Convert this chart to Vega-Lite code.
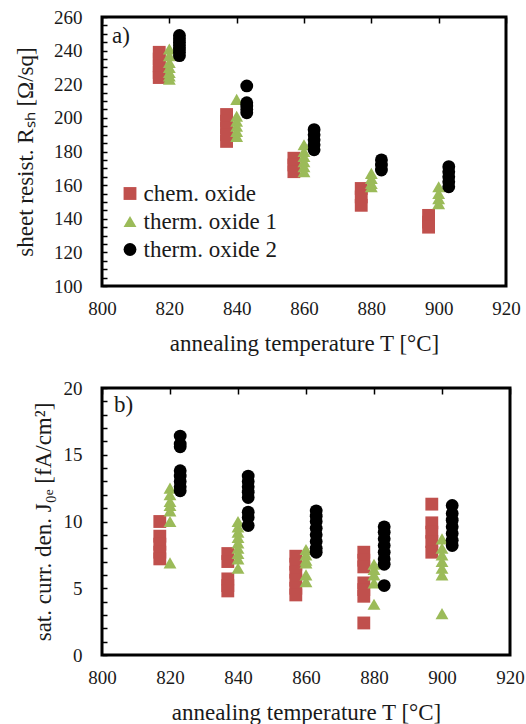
{
  "$schema": "https://vega.github.io/schema/vega-lite/v6.json",
  "background": "white",
  "padding": {"left": 13, "top": 6, "right": 10, "bottom": 5},
  "spacing": 102,
  "bounds": "flush",
  "config": {
    "font": "Liberation Serif",
    "view": {"stroke": "black", "strokeWidth": 3},
    "axis": {
      "grid": true, "gridColor": "black", "gridWidth": 1.5, "gridOpacity": 1, "gridDash": [6, 2000],
      "domain": false, "ticks": false,
      "labelFont": "Liberation Serif", "titleFont": "Liberation Serif",
      "labelFontSize": 19, "titleFontSize": 23, "titleFontWeight": "normal",
      "labelColor": "#1a1a1a", "titleColor": "#1a1a1a", "labelOverlap": false
    },
    "title": {"font": "Liberation Serif", "fontSize": 23, "fontWeight": "normal", "color": "#1a1a1a", "anchor": "start", "frame": "group", "offset": -40, "dx": 10},
    "legend": {
      "orient": "none", "legendX": 16.5, "legendY": 165, "padding": 0,
      "labelFont": "Liberation Serif", "labelFontSize": 23, "labelColor": "#1a1a1a",
      "rowPadding": 4, "labelOffset": 2, "symbolStrokeWidth": 0, "symbolSize": 165, "title": null
    }
  },
  "datasets": {
    "sheet": [
      {"T": 817, "series": "chem. oxide", "v": 239}, {"T": 817, "series": "chem. oxide", "v": 235}, {"T": 817, "series": "chem. oxide", "v": 231}, {"T": 817, "series": "chem. oxide", "v": 227}, {"T": 817, "series": "chem. oxide", "v": 224},
      {"T": 837, "series": "chem. oxide", "v": 202}, {"T": 837, "series": "chem. oxide", "v": 198}, {"T": 837, "series": "chem. oxide", "v": 194}, {"T": 837, "series": "chem. oxide", "v": 190}, {"T": 837, "series": "chem. oxide", "v": 186},
      {"T": 857, "series": "chem. oxide", "v": 176}, {"T": 857, "series": "chem. oxide", "v": 172}, {"T": 857, "series": "chem. oxide", "v": 168},
      {"T": 877, "series": "chem. oxide", "v": 158}, {"T": 877, "series": "chem. oxide", "v": 153}, {"T": 877, "series": "chem. oxide", "v": 148},
      {"T": 897, "series": "chem. oxide", "v": 142}, {"T": 897, "series": "chem. oxide", "v": 138}, {"T": 897, "series": "chem. oxide", "v": 135},
      {"T": 820, "series": "therm. oxide 1", "v": 241}, {"T": 820, "series": "therm. oxide 1", "v": 237}, {"T": 820, "series": "therm. oxide 1", "v": 233}, {"T": 820, "series": "therm. oxide 1", "v": 230}, {"T": 820, "series": "therm. oxide 1", "v": 227}, {"T": 820, "series": "therm. oxide 1", "v": 225}, {"T": 820, "series": "therm. oxide 1", "v": 223},
      {"T": 840, "series": "therm. oxide 1", "v": 211}, {"T": 840, "series": "therm. oxide 1", "v": 201}, {"T": 840, "series": "therm. oxide 1", "v": 198}, {"T": 840, "series": "therm. oxide 1", "v": 195}, {"T": 840, "series": "therm. oxide 1", "v": 192}, {"T": 840, "series": "therm. oxide 1", "v": 189},
      {"T": 860, "series": "therm. oxide 1", "v": 184}, {"T": 860, "series": "therm. oxide 1", "v": 180}, {"T": 860, "series": "therm. oxide 1", "v": 177}, {"T": 860, "series": "therm. oxide 1", "v": 174}, {"T": 860, "series": "therm. oxide 1", "v": 171}, {"T": 860, "series": "therm. oxide 1", "v": 168},
      {"T": 880, "series": "therm. oxide 1", "v": 167}, {"T": 880, "series": "therm. oxide 1", "v": 164}, {"T": 880, "series": "therm. oxide 1", "v": 161}, {"T": 880, "series": "therm. oxide 1", "v": 159},
      {"T": 900, "series": "therm. oxide 1", "v": 159}, {"T": 900, "series": "therm. oxide 1", "v": 155}, {"T": 900, "series": "therm. oxide 1", "v": 152}, {"T": 900, "series": "therm. oxide 1", "v": 149},
      {"T": 823, "series": "therm. oxide 2", "v": 249}, {"T": 823, "series": "therm. oxide 2", "v": 247}, {"T": 823, "series": "therm. oxide 2", "v": 245}, {"T": 823, "series": "therm. oxide 2", "v": 243}, {"T": 823, "series": "therm. oxide 2", "v": 241}, {"T": 823, "series": "therm. oxide 2", "v": 239}, {"T": 823, "series": "therm. oxide 2", "v": 237},
      {"T": 843, "series": "therm. oxide 2", "v": 219}, {"T": 843, "series": "therm. oxide 2", "v": 209}, {"T": 843, "series": "therm. oxide 2", "v": 207}, {"T": 843, "series": "therm. oxide 2", "v": 205}, {"T": 843, "series": "therm. oxide 2", "v": 203},
      {"T": 863, "series": "therm. oxide 2", "v": 193}, {"T": 863, "series": "therm. oxide 2", "v": 190}, {"T": 863, "series": "therm. oxide 2", "v": 187}, {"T": 863, "series": "therm. oxide 2", "v": 184}, {"T": 863, "series": "therm. oxide 2", "v": 181},
      {"T": 883, "series": "therm. oxide 2", "v": 175}, {"T": 883, "series": "therm. oxide 2", "v": 172}, {"T": 883, "series": "therm. oxide 2", "v": 169},
      {"T": 903, "series": "therm. oxide 2", "v": 171}, {"T": 903, "series": "therm. oxide 2", "v": 168}, {"T": 903, "series": "therm. oxide 2", "v": 165}, {"T": 903, "series": "therm. oxide 2", "v": 162}, {"T": 903, "series": "therm. oxide 2", "v": 159}
    ],
    "j0e": [
      {"T": 817, "series": "chem. oxide", "v": 10.0}, {"T": 817, "series": "chem. oxide", "v": 8.9}, {"T": 817, "series": "chem. oxide", "v": 8.3}, {"T": 817, "series": "chem. oxide", "v": 7.7}, {"T": 817, "series": "chem. oxide", "v": 7.2},
      {"T": 837, "series": "chem. oxide", "v": 7.6}, {"T": 837, "series": "chem. oxide", "v": 7.0}, {"T": 837, "series": "chem. oxide", "v": 5.7}, {"T": 837, "series": "chem. oxide", "v": 5.2}, {"T": 837, "series": "chem. oxide", "v": 4.8},
      {"T": 857, "series": "chem. oxide", "v": 7.4}, {"T": 857, "series": "chem. oxide", "v": 6.8}, {"T": 857, "series": "chem. oxide", "v": 6.2}, {"T": 857, "series": "chem. oxide", "v": 5.6}, {"T": 857, "series": "chem. oxide", "v": 5.0}, {"T": 857, "series": "chem. oxide", "v": 4.5},
      {"T": 877, "series": "chem. oxide", "v": 7.7}, {"T": 877, "series": "chem. oxide", "v": 7.1}, {"T": 877, "series": "chem. oxide", "v": 6.6}, {"T": 877, "series": "chem. oxide", "v": 5.4}, {"T": 877, "series": "chem. oxide", "v": 4.9}, {"T": 877, "series": "chem. oxide", "v": 4.4}, {"T": 877, "series": "chem. oxide", "v": 2.4},
      {"T": 897, "series": "chem. oxide", "v": 11.3}, {"T": 897, "series": "chem. oxide", "v": 9.9}, {"T": 897, "series": "chem. oxide", "v": 9.2}, {"T": 897, "series": "chem. oxide", "v": 8.5}, {"T": 897, "series": "chem. oxide", "v": 7.7},
      {"T": 820, "series": "therm. oxide 1", "v": 12.5}, {"T": 820, "series": "therm. oxide 1", "v": 12.0}, {"T": 820, "series": "therm. oxide 1", "v": 11.5}, {"T": 820, "series": "therm. oxide 1", "v": 11.2}, {"T": 820, "series": "therm. oxide 1", "v": 10.8}, {"T": 820, "series": "therm. oxide 1", "v": 10.0}, {"T": 820, "series": "therm. oxide 1", "v": 6.9},
      {"T": 840, "series": "therm. oxide 1", "v": 10.0}, {"T": 840, "series": "therm. oxide 1", "v": 9.6}, {"T": 840, "series": "therm. oxide 1", "v": 9.2}, {"T": 840, "series": "therm. oxide 1", "v": 8.8}, {"T": 840, "series": "therm. oxide 1", "v": 8.4}, {"T": 840, "series": "therm. oxide 1", "v": 8.0}, {"T": 840, "series": "therm. oxide 1", "v": 7.6}, {"T": 840, "series": "therm. oxide 1", "v": 7.2}, {"T": 840, "series": "therm. oxide 1", "v": 6.5},
      {"T": 860, "series": "therm. oxide 1", "v": 7.9}, {"T": 860, "series": "therm. oxide 1", "v": 7.5}, {"T": 860, "series": "therm. oxide 1", "v": 7.1}, {"T": 860, "series": "therm. oxide 1", "v": 6.9}, {"T": 860, "series": "therm. oxide 1", "v": 6.0}, {"T": 860, "series": "therm. oxide 1", "v": 5.5},
      {"T": 880, "series": "therm. oxide 1", "v": 6.8}, {"T": 880, "series": "therm. oxide 1", "v": 6.4}, {"T": 880, "series": "therm. oxide 1", "v": 6.0}, {"T": 880, "series": "therm. oxide 1", "v": 5.4}, {"T": 880, "series": "therm. oxide 1", "v": 3.8},
      {"T": 900, "series": "therm. oxide 1", "v": 8.7}, {"T": 900, "series": "therm. oxide 1", "v": 8.0}, {"T": 900, "series": "therm. oxide 1", "v": 7.5}, {"T": 900, "series": "therm. oxide 1", "v": 7.0}, {"T": 900, "series": "therm. oxide 1", "v": 6.5}, {"T": 900, "series": "therm. oxide 1", "v": 6.0}, {"T": 900, "series": "therm. oxide 1", "v": 3.1},
      {"T": 823, "series": "therm. oxide 2", "v": 16.4}, {"T": 823, "series": "therm. oxide 2", "v": 15.8}, {"T": 823, "series": "therm. oxide 2", "v": 15.6}, {"T": 823, "series": "therm. oxide 2", "v": 13.8}, {"T": 823, "series": "therm. oxide 2", "v": 13.4}, {"T": 823, "series": "therm. oxide 2", "v": 13.0}, {"T": 823, "series": "therm. oxide 2", "v": 12.6}, {"T": 823, "series": "therm. oxide 2", "v": 12.3},
      {"T": 843, "series": "therm. oxide 2", "v": 13.4}, {"T": 843, "series": "therm. oxide 2", "v": 13.0}, {"T": 843, "series": "therm. oxide 2", "v": 12.6}, {"T": 843, "series": "therm. oxide 2", "v": 12.2}, {"T": 843, "series": "therm. oxide 2", "v": 11.8}, {"T": 843, "series": "therm. oxide 2", "v": 10.7}, {"T": 843, "series": "therm. oxide 2", "v": 10.3}, {"T": 843, "series": "therm. oxide 2", "v": 9.7},
      {"T": 863, "series": "therm. oxide 2", "v": 10.8}, {"T": 863, "series": "therm. oxide 2", "v": 10.4}, {"T": 863, "series": "therm. oxide 2", "v": 10.0}, {"T": 863, "series": "therm. oxide 2", "v": 9.5}, {"T": 863, "series": "therm. oxide 2", "v": 9.0}, {"T": 863, "series": "therm. oxide 2", "v": 8.5}, {"T": 863, "series": "therm. oxide 2", "v": 8.0}, {"T": 863, "series": "therm. oxide 2", "v": 7.7},
      {"T": 883, "series": "therm. oxide 2", "v": 9.6}, {"T": 883, "series": "therm. oxide 2", "v": 9.2}, {"T": 883, "series": "therm. oxide 2", "v": 8.7}, {"T": 883, "series": "therm. oxide 2", "v": 8.2}, {"T": 883, "series": "therm. oxide 2", "v": 7.7}, {"T": 883, "series": "therm. oxide 2", "v": 7.2}, {"T": 883, "series": "therm. oxide 2", "v": 6.8}, {"T": 883, "series": "therm. oxide 2", "v": 5.2},
      {"T": 903, "series": "therm. oxide 2", "v": 11.2}, {"T": 903, "series": "therm. oxide 2", "v": 10.6}, {"T": 903, "series": "therm. oxide 2", "v": 10.1}, {"T": 903, "series": "therm. oxide 2", "v": 9.6}, {"T": 903, "series": "therm. oxide 2", "v": 9.1}, {"T": 903, "series": "therm. oxide 2", "v": 8.6}, {"T": 903, "series": "therm. oxide 2", "v": 8.2}
    ]
  },
  "resolve": {"legend": {"color": "independent", "shape": "independent"}},
  "vconcat": [
    {
      "width": 404,
      "height": 269,
      "title": {"text": "a)"},
      "data": {"name": "sheet"},
      "mark": {"type": "point", "filled": true, "opacity": 1, "size": 165, "strokeWidth": 0},
      "encoding": {
        "x": {"field": "T", "type": "quantitative", "scale": {"domain": [800, 920], "nice": false},
          "axis": {"values": [800, 820, 840, 860, 880, 900, 920], "labelPadding": 13, "titlePadding": 14, "title": "annealing temperature T [°C]", "format": "d", "labelFlush": false}},
        "y": {"field": "v", "type": "quantitative", "scale": {"domain": [100, 260], "nice": false, "zero": false},
          "axis": {"values": [100,105,110,115,120,125,130,135,140,145,150,155,160,165,170,175,180,185,190,195,200,205,210,215,220,225,230,235,240,245,250,255,260],
            "labelExpr": "datum.value % 20 === 0 ? datum.label : ''", "gridDash": [5, 2000], "labelPadding": 20, "titlePadding": 16, "title": "sheet resist. Rₛₕ  [Ω/sq]", "labelFlush": false}},
        "color": {"field": "series", "type": "nominal",
          "scale": {"domain": ["chem. oxide", "therm. oxide 1", "therm. oxide 2"], "range": ["#C0504D", "#9BBB59", "#000000"]}},
        "shape": {"field": "series", "type": "nominal",
          "scale": {"domain": ["chem. oxide", "therm. oxide 1", "therm. oxide 2"], "range": ["square", "triangle-up", "circle"]}}
      }
    },
    {
      "width": 408,
      "height": 267,
      "title": {"text": "b)", "dx": 12, "offset": -38},
      "data": {"name": "j0e"},
      "mark": {"type": "point", "filled": true, "opacity": 1, "size": 165, "strokeWidth": 0},
      "encoding": {
        "x": {"field": "T", "type": "quantitative", "scale": {"domain": [800, 920], "nice": false},
          "axis": {"values": [800, 820, 840, 860, 880, 900, 920], "labelPadding": 13, "titlePadding": 14, "title": "annealing temperature T [°C]", "format": "d", "labelFlush": false}},
        "y": {"field": "v", "type": "quantitative", "scale": {"domain": [0, 20], "nice": false},
          "axis": {"values": [0,1,2,3,4,5,6,7,8,9,10,11,12,13,14,15,16,17,18,19,20],
            "labelExpr": "datum.value % 5 === 0 ? datum.label : ''", "gridDash": [5, 2000], "labelPadding": 20, "titlePadding": 8, "title": "sat. curr. den. J₀ₑ [fA/cm²]", "labelFlush": false}},
        "color": {"field": "series", "type": "nominal", "legend": null,
          "scale": {"domain": ["chem. oxide", "therm. oxide 1", "therm. oxide 2"], "range": ["#C0504D", "#9BBB59", "#000000"]}},
        "shape": {"field": "series", "type": "nominal", "legend": null,
          "scale": {"domain": ["chem. oxide", "therm. oxide 1", "therm. oxide 2"], "range": ["square", "triangle-up", "circle"]}}
      }
    }
  ]
}
